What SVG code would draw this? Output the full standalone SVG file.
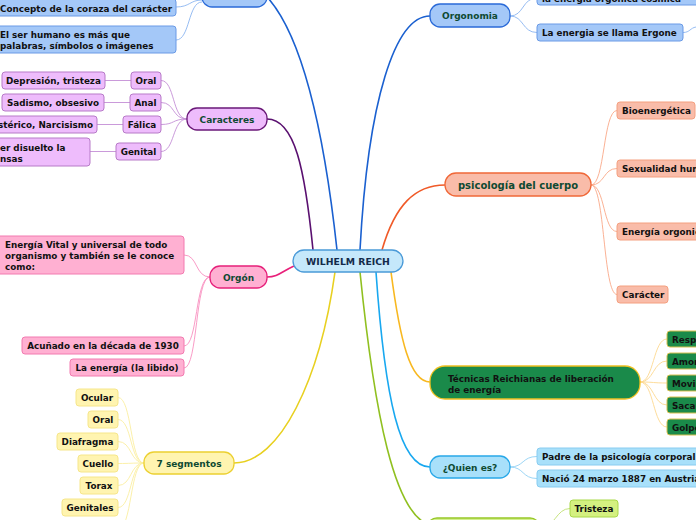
<svg xmlns="http://www.w3.org/2000/svg" width="696" height="520" viewBox="0 0 696 520">
<style>
text{font-family:"DejaVu Sans","Liberation Sans",sans-serif;font-weight:bold;font-size:8.8px;fill:#111}
.m{text-anchor:middle}
.t{fill:#0f4a32;font-size:9px}
.c{fill:none;stroke-width:1.6}
.s{fill:none;stroke-width:0.9}
.blue{fill:#a4c8f8;stroke:#2a6ad8;stroke-width:1.3}
.bluel{fill:#a4c8f8;stroke:#6a9ae6;stroke-width:1}
.pur{fill:#eebcfc;stroke:#6a1878;stroke-width:1.3}
.purl{fill:#eebcfc;stroke:#b77ac8;stroke-width:1}
.pink{fill:#ffb0d2;stroke:#e6207a;stroke-width:1.3}
.pinkl{fill:#ffb0d2;stroke:#f27ab0;stroke-width:1}
.yel{fill:#fff4b0;stroke:#ecd030;stroke-width:1.3}
.yell{fill:#fff4b0;stroke:#f6e68a;stroke-width:1}
.sal{fill:#f9bca9;stroke:#f06838;stroke-width:1.3}
.sall{fill:#f9bca9;stroke:#f4a080;stroke-width:1}
.grn{fill:#1a8a4a;stroke:#f0c020;stroke-width:1.3}
.grnl{fill:#1a8a4a;stroke:#d8c050;stroke-width:1}
.cy{fill:#a8e0fa;stroke:#28a8e8;stroke-width:1.3}
.cyl{fill:#a8e0fa;stroke:#88ccf0;stroke-width:1}
.lim{fill:#d4f090;stroke:#98c828;stroke-width:1.3}
.liml{fill:#d4f080;stroke:#a8d848;stroke-width:1}
</style>
<g id="connectors">
<path class="c" stroke="#5a1070" d="M313,250 C305,170 295,119 267,119"/>
<path class="c" stroke="#1a60d0" d="M337,250 C325,140 305,40 268,-2"/>
<path class="c" stroke="#1a60d0" d="M360,250 C368,100 395,16 430,16"/>
<path class="c" stroke="#f05a28" d="M382,250 C395,205 415,185 445,185"/>
<path class="c" stroke="#e8207a" d="M294,266 C281,272 278,277 267,277"/>
<path class="c" stroke="#e8d020" d="M335,272 C320,380 280,463 234,463"/>
<path class="c" stroke="#90c020" d="M360,272 C375,420 395,510 427,524"/>
<path class="c" stroke="#18a8f0" d="M376,272 C385,400 400,467 430,467"/>
<path class="c" stroke="#f8b820" d="M391,272 C400,340 410,382 430,382"/>
<g stroke="#8ab4f0"><path class="s" d="M202,0 C190,0 190,7 176,7"/><path class="s" d="M202,2 C188,2 190,40 176,40"/></g>
<g stroke="#c48ed6"><path class="s" d="M187,119 C172,119 175,80.5 161,80.5"/><path class="s" d="M187,119 C172,119 175,102.5 161,102.5"/><path class="s" d="M187,119 C172,119 175,124.5 161,124.5"/><path class="s" d="M187,119 C172,119 175,151.5 161,151.5"/>
<path class="s" d="M131,80.5 L105,80.5"/><path class="s" d="M130,102.5 L104,102.5"/><path class="s" d="M123,124.5 L97,124.5"/><path class="s" d="M116,151.5 L90,151.5"/></g>
<g stroke="#f890c0"><path class="s" d="M210,277 C195,277 198,255 184,255"/><path class="s" d="M210,277 C195,277 198,346 184,346"/><path class="s" d="M210,277 C195,277 198,368 184,368"/></g>
<g stroke="#fbeea0"><path class="s" d="M144,463 C130,463 132,397.5 118,397.5"/><path class="s" d="M144,463 C130,463 132,419.5 118,419.5"/><path class="s" d="M144,463 C130,463 132,441.5 118,441.5"/><path class="s" d="M144,463 C130,463 132,463.5 118,463.5"/><path class="s" d="M144,463 C130,463 132,485.5 118,485.5"/><path class="s" d="M144,463 C130,463 132,507.5 118,507.5"/><path class="s" d="M144,463 C130,463 132,529.5 118,529.5"/></g>
<g stroke="#8ab4f0"><path class="s" d="M510,16 C524,16 522,-2 537,-2"/><path class="s" d="M510,16 C524,16 522,32.5 537,32.5"/><path class="s" d="M683,32.5 C690,32.5 690,28 696,27"/></g>
<g stroke="#f9a888"><path class="s" d="M591,185 C605,185 603,110.5 617,110.5"/><path class="s" d="M591,185 C605,185 603,168.5 617,168.5"/><path class="s" d="M591,185 C605,185 603,231.5 617,231.5"/><path class="s" d="M591,185 C605,185 603,294.5 617,294.5"/></g>
<g stroke="#fdd890"><path class="s" d="M640,382 C654,382 653,339 667,339"/><path class="s" d="M640,382 C654,382 653,361 667,361"/><path class="s" d="M640,382 C654,382 653,383 667,383"/><path class="s" d="M640,382 C654,382 653,405 667,405"/><path class="s" d="M640,382 C654,382 653,427 667,427"/></g>
<g stroke="#90d0f4"><path class="s" d="M510,467 C524,467 522,456.5 537,456.5"/><path class="s" d="M510,467 C524,467 522,478.5 537,478.5"/></g>
<g stroke="#c0e070"><path class="s" d="M540,528 C555,528 556,508.5 570,508.5"/></g>
</g>
<g id="center"><rect x="293" y="250" width="110" height="22" rx="11" fill="#c5e8fb" stroke="#4a9ad8" stroke-width="1.3"/><text class="m" x="348" y="264.5" style="fill:#132a4a;font-size:9.3px">WILHELM REICH</text></g>
<g id="top-blue"><rect class="blue" x="202" y="-20" width="65" height="27" rx="10"/></g>
<g id="coraza"><rect class="bluel" x="-6" y="-1" width="182" height="17" rx="3"/><text x="0" y="12">Concepto de la coraza del carácter</text></g>
<g id="ser-humano"><rect class="bluel" x="-6" y="26" width="182" height="27" rx="3"/><text x="0" y="37.5">El ser humano es más que</text><text x="0" y="48.5">palabras, símbolos o imágenes</text></g>
<g id="caracteres"><rect class="pur" x="187" y="108" width="80" height="22" rx="10"/><text class="m t" x="227" y="122.5">Caracteres</text></g>
<g id="oral-c"><rect class="purl" x="131" y="72" width="30" height="17" rx="3"/><text class="m" x="146" y="84">Oral</text></g>
<g id="anal"><rect class="purl" x="130" y="94" width="31" height="17" rx="3"/><text class="m" x="145.5" y="106">Anal</text></g>
<g id="falica"><rect class="purl" x="123" y="116" width="38" height="17" rx="3"/><text class="m" x="142" y="128">Fálica</text></g>
<g id="genital"><rect class="purl" x="116" y="143" width="45" height="17" rx="3"/><text class="m" x="138.5" y="155">Genital</text></g>
<g id="depresion"><rect class="purl" x="2" y="72" width="103" height="17" rx="3"/><text class="m" x="53.5" y="84">Depresión, tristeza</text></g>
<g id="sadismo"><rect class="purl" x="2" y="94" width="102" height="17" rx="3"/><text class="m" x="53" y="106">Sadismo, obsesivo</text></g>
<g id="histerico"><rect class="purl" x="-6" y="116" width="103" height="17" rx="3"/><text x="93" y="128" text-anchor="end">stérico, Narcisismo</text></g>
<g id="disuelto"><rect class="purl" x="-6" y="138" width="96" height="28" rx="3"/><text x="0" y="150.5">er disuelto la</text><text x="0" y="161.5">nsas</text></g>
<g id="orgon"><rect class="pink" x="210" y="266" width="57" height="22" rx="10"/><text class="m t" x="238.5" y="280.5">Orgón</text></g>
<g id="energia-vital"><rect class="pinkl" x="-4" y="236" width="188" height="38" rx="3"/><text x="5" y="247.5">Energía Vital  y universal de todo</text><text x="5" y="259">organismo y también se le conoce</text><text x="5" y="270">como:</text></g>
<g id="acunado"><rect class="pinkl" x="22" y="337" width="162" height="17" rx="3"/><text class="m" x="103" y="349">Acuñado en la década de 1930</text></g>
<g id="libido"><rect class="pinkl" x="70" y="359" width="114" height="17" rx="3"/><text class="m" x="127" y="371">La energía (la libido)</text></g>
<g id="segmentos"><rect class="yel" x="144" y="452" width="90" height="22" rx="10"/><text class="m t" x="189" y="466.5">7 segmentos</text></g>
<g id="ocular"><rect class="yell" x="76" y="389" width="42" height="17" rx="3"/><text class="m" x="97" y="401">Ocular</text></g>
<g id="oral-s"><rect class="yell" x="88" y="411" width="30" height="17" rx="3"/><text class="m" x="103" y="423">Oral</text></g>
<g id="diafragma"><rect class="yell" x="57" y="433" width="61" height="17" rx="3"/><text class="m" x="87.5" y="445">Diafragma</text></g>
<g id="cuello"><rect class="yell" x="78" y="455" width="40" height="17" rx="3"/><text class="m" x="98" y="467">Cuello</text></g>
<g id="torax"><rect class="yell" x="80" y="477" width="38" height="17" rx="3"/><text class="m" x="99" y="489">Torax</text></g>
<g id="genitales"><rect class="yell" x="62" y="499" width="56" height="17" rx="3"/><text class="m" x="90" y="511">Genitales</text></g>
<g id="orgonomia"><rect class="blue" x="430" y="4" width="80" height="23" rx="10"/><text class="m t" x="470" y="19">Orgonomia</text></g>
<g id="cosmica"><rect class="bluel" x="537" y="-10" width="170" height="15" rx="3"/><text x="542" y="1.5">la energia orgónica cósmica</text></g>
<g id="ergone"><rect class="bluel" x="537" y="24" width="146" height="17" rx="3"/><text x="542" y="36">La energia se llama Ergone</text></g>
<g id="psicologia"><rect class="sal" x="445" y="173" width="146" height="23" rx="11"/><text class="m t" x="518" y="188.5" style="font-size:10px">psicología del cuerpo</text></g>
<g id="bioenergetica"><rect class="sall" x="617" y="102" width="78" height="17" rx="3"/><text x="622" y="114">Bioenergética</text></g>
<g id="sexualidad"><rect class="sall" x="617" y="160" width="100" height="17" rx="3"/><text x="622" y="172">Sexualidad humana</text></g>
<g id="energia-orgonica"><rect class="sall" x="617" y="223" width="100" height="17" rx="3"/><text x="622" y="235">Energía orgonica</text></g>
<g id="caracter"><rect class="sall" x="617" y="286" width="51" height="17" rx="3"/><text x="622" y="298">Carácter</text></g>
<g id="tecnicas"><rect class="grn" x="430" y="366" width="210" height="33" rx="15"/><text x="448" y="381.5">Técnicas Reichianas de liberación</text><text x="448" y="392.5">de energía</text></g>
<g id="t1"><rect class="grnl" x="667" y="331" width="40" height="16" rx="3"/><text x="672" y="343">Respiración</text></g>
<g id="t2"><rect class="grnl" x="667" y="353" width="40" height="16" rx="3"/><text x="672" y="365">Amor</text></g>
<g id="t3"><rect class="grnl" x="667" y="375" width="40" height="16" rx="3"/><text x="672" y="387">Movimiento</text></g>
<g id="t4"><rect class="grnl" x="667" y="397" width="40" height="16" rx="3"/><text x="672" y="409">Sacar</text></g>
<g id="t5"><rect class="grnl" x="667" y="419" width="40" height="16" rx="3"/><text x="672" y="431">Golpear</text></g>
<g id="quien"><rect class="cy" x="430" y="456" width="80" height="22" rx="10"/><text class="m t" x="470" y="470.5">¿Quien es?</text></g>
<g id="padre"><rect class="cyl" x="537" y="448" width="170" height="17" rx="3"/><text x="542" y="460">Padre de la psicología corporal</text></g>
<g id="nacio"><rect class="cyl" x="537" y="470" width="170" height="17" rx="3"/><text x="542" y="482">Nació 24 marzo 1887 en Austria</text></g>
<g id="green-node"><rect class="lim" x="427" y="518" width="113" height="22" rx="10"/></g>
<g id="tristeza"><rect class="liml" x="570" y="500" width="48" height="17" rx="3"/><text class="m" x="594" y="512">Tristeza</text></g>
</svg>
